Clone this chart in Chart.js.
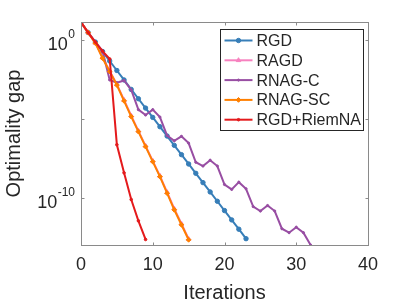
<!DOCTYPE html>
<html>
<head>
<meta charset="utf-8">
<script src="https://cdn.jsdelivr.net/npm/chart.js@4"></script>
<style>
  html, body { margin: 0; background: #fff; }
</style>
</head>
<body>
<canvas id="c" width="407" height="305"></canvas>
<script>
/* ---- Data: log10(optimality gap) per iteration ---- */
const rgdLog = [1.1, 0.45, -0.15, -0.75, -1.35, -1.95, -2.55, -3.15, -3.74, -4.33,
  -4.92, -5.51, -6.1, -6.69, -7.28, -7.87, -8.46, -9.05, -9.64, -10.23,
  -10.82, -11.41, -12.0, -12.6];
const ragdLog = [1.1, 0.46, -0.2, -1.13, -1.98, -2.83, -3.82, -4.81, -5.77, -6.72,
  -7.67, -8.62, -9.66, -10.7, -11.65, -12.62];
const rnagcLog = [1.1, 0.45, -0.15, -0.72, -2.55, -2.72, -2.58, -3.18, -4.43, -4.77,
  -4.43, -4.9, -6.07, -6.4, -6.12, -6.55, -7.76, -8.0, -7.63, -8.0,
  -9.17, -9.48, -9.02, -9.44, -10.57, -10.85, -10.5, -10.85, -11.97, -12.22,
  -11.87, -12.22, -13.0];
const rnagscLog = [1.1, 0.45, -0.22, -1.17, -2.02, -2.87, -3.87, -4.87, -5.82, -6.77,
  -7.72, -8.67, -9.72, -10.77, -11.72, -12.67];
const riemnaLog = [1.1, 0.45, -0.15, -0.72, -1.22, -6.65, -8.43, -10.12, -11.47, -12.65];

const xTicks = [0, 10, 20, 30, 40];
const yTickExps = [0, -5, -10];
const yLabelExps = [0, -10];

const FONT = '"Liberation Sans", Arial, Helvetica, sans-serif';
const INK = '#262626';

/* ---- Helpers ---- */
function toPoints(logs) {
  return logs.map((v, i) => ({ x: i, y: Math.pow(10, v) }));
}

// order: later series are drawn on top, as in the original plot
function series(label, logs, color, style, radius, order) {
  return {
    label,
    data: toPoints(logs),
    borderColor: color,
    backgroundColor: color,
    borderWidth: 2,
    pointStyle: style,
    pointRadius: radius,
    pointBorderWidth: 1,
    tension: 0,
    order,
  };
}

/* ---- Box, inward ticks, y labels with exponents, legend ---- */
const matlabAxes = {
  id: 'matlabAxes',
  beforeDraw(chart) {
    const ctx = chart.ctx;
    ctx.save();
    ctx.fillStyle = '#fff';
    ctx.fillRect(0, 0, chart.width, chart.height);
    ctx.restore();
  },
  afterDraw(chart) {
    const { ctx, chartArea: a, scales } = chart;
    const L = Math.round(a.left) + 0.5, R = Math.round(a.right) + 0.5;
    const T = Math.round(a.top) + 0.5, B = Math.round(a.bottom) + 0.5;
    ctx.save();
    ctx.strokeStyle = '#8a8a8a';
    ctx.lineWidth = 1;
    ctx.strokeRect(L, T, R - L, B - T);

    const tl = 3;
    ctx.beginPath();
    for (const v of xTicks) {
      const px = Math.round(scales.x.getPixelForValue(v)) + 0.5;
      ctx.moveTo(px, B); ctx.lineTo(px, B - tl);
      ctx.moveTo(px, T); ctx.lineTo(px, T + tl);
    }
    for (const e of yTickExps) {
      const py = Math.round(scales.y.getPixelForValue(Math.pow(10, e))) + 0.5;
      ctx.moveTo(L, py); ctx.lineTo(L + tl, py);
      ctx.moveTo(R, py); ctx.lineTo(R - tl, py);
    }
    ctx.stroke();

    // y tick labels: 10 with superscript exponent
    ctx.fillStyle = INK;
    ctx.textBaseline = 'alphabetic';
    for (const e of yLabelExps) {
      const py = scales.y.getPixelForValue(Math.pow(10, e));
      const exp = String(e);
      ctx.font = '12px ' + FONT;
      const ew = ctx.measureText(exp).width;
      ctx.textAlign = 'right';
      const right = a.left - 6;
      ctx.fillText(exp, right, py - 1.5);
      ctx.font = '18px ' + FONT;
      ctx.fillText('10', right - ew - 0.5, py + 10.5);
    }

    // legend
    const bw = 143, bh = 101;
    const bx = Math.round(a.right) - 148 + 0.5, by = Math.round(a.top) + 7 + 0.5;
    ctx.fillStyle = '#fff';
    ctx.fillRect(bx, by, bw, bh);
    ctx.strokeStyle = '#262626';
    ctx.strokeRect(bx, by, bw, bh);
    ctx.font = '16px ' + FONT;
    ctx.textAlign = 'left';
    ctx.textBaseline = 'middle';
    chart.data.datasets.forEach((ds, i) => {
      const cy = by + 11 + i * 19.8;
      ctx.strokeStyle = ds.borderColor;
      ctx.lineWidth = 2;
      ctx.beginPath();
      ctx.moveTo(bx + 4, cy); ctx.lineTo(bx + 32, cy);
      ctx.stroke();
      ctx.fillStyle = ds.backgroundColor;
      ctx.lineWidth = 1;
      Chart.helpers.drawPoint(ctx, {
        pointStyle: ds.pointStyle, radius: ds.pointRadius, borderWidth: 1, rotation: 0,
      }, bx + 18, cy);
      ctx.fillStyle = INK;
      ctx.fillText(ds.label, bx + 36, cy + 1);
    });
    ctx.restore();
  },
};

/* ---- Chart ---- */
new Chart(document.getElementById('c'), {
  type: 'line',
  data: {
    datasets: [
      series('RGD', rgdLog, '#377eb8', 'circle', 2.2, 5),
      series('RAGD', ragdLog, '#f781bf', 'triangle', 2.6, 4),
      series('RNAG-C', rnagcLog, '#984ea3', 'circle', 1.1, 3),
      series('RNAG-SC', rnagscLog, '#ff7f00', 'rectRot', 2.4, 2),
      series('RGD+RiemNA', riemnaLog, '#e41a1c', 'circle', 1.3, 1),
    ],
  },
  options: {
    responsive: false,
    animation: false,
    layout: { padding: { top: 22, right: 39, left: 0, bottom: 0 } },
    plugins: { legend: { display: false }, tooltip: { enabled: false } },
    scales: {
      x: {
        type: 'linear',
        min: 0,
        max: 40,
        afterFit: (s) => { s.height = 60; },
        afterBuildTicks: (s) => { s.ticks = xTicks.map((v) => ({ value: v })); },
        grid: { display: false, drawTicks: false },
        border: { display: false },
        ticks: { color: INK, font: { family: FONT, size: 18 }, padding: 9 },
        title: {
          display: true, text: 'Iterations', color: INK,
          font: { family: FONT, size: 20 }, padding: { top: 0, bottom: 0 },
        },
      },
      y: {
        type: 'logarithmic',
        min: 1e-13,
        max: Math.pow(10, 1.12),
        afterFit: (s) => { s.width = 81; },
        afterBuildTicks: (s) => { s.ticks = yTickExps.map((e) => ({ value: Math.pow(10, e) })); },
        grid: { display: false, drawTicks: false },
        border: { display: false },
        ticks: { display: false },
        title: {
          display: true, text: 'Optimality gap', color: INK,
          font: { family: FONT, size: 20 }, padding: { top: 2, bottom: 0 },
        },
      },
    },
  },
  plugins: [matlabAxes],
});
</script>
</body>
</html>
